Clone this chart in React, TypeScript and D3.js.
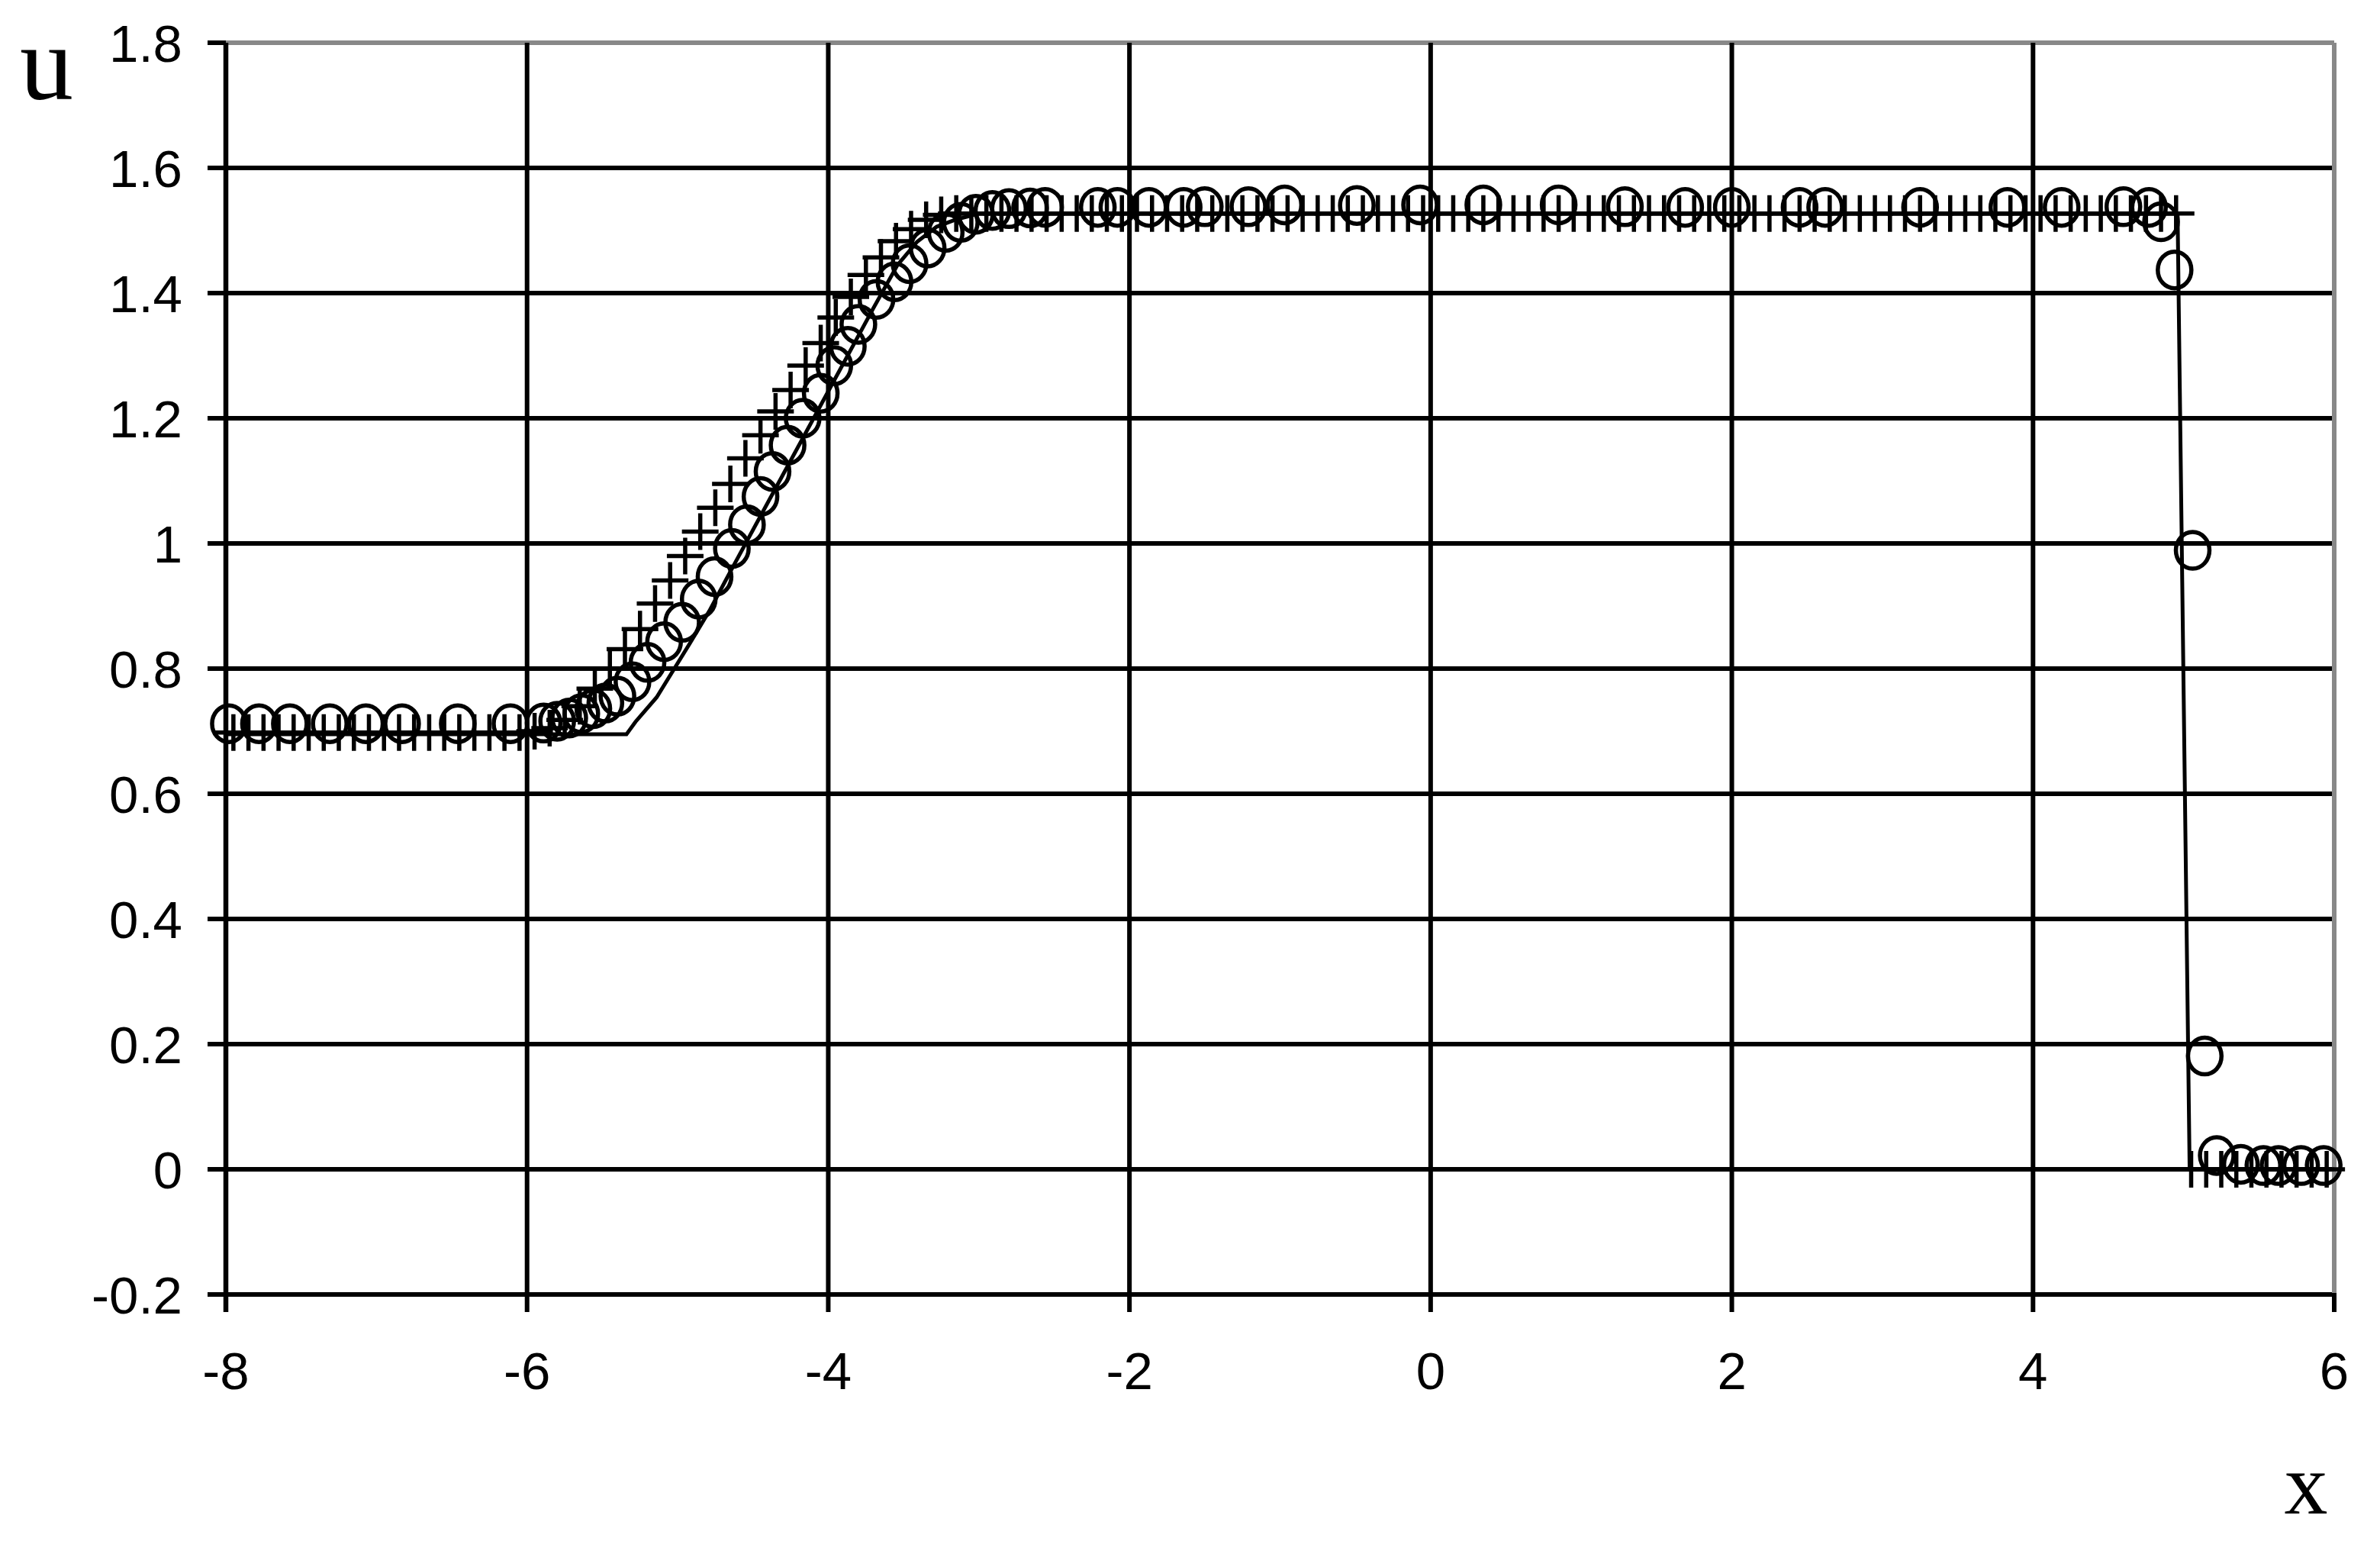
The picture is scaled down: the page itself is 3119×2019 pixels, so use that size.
import { useEffect, useRef } from 'react';
import * as d3 from 'd3';

// axis ticks
const xTicks = [-8, -6, -4, -2, 0, 2, 4, 6];
const yTicks = [-0.2, 0, 0.2, 0.4, 0.6, 0.8, 1, 1.2, 1.4, 1.6, 1.8];

// exact solution (solid line)
const exactX = [-8, -5.34, -5.28, -5.14, -5.04, -4.92, -4.79, -4.65, -3.7, -3.54, -3.41, -3.28, -3.16, -3.0, 4.96, 5.04, 6];
const exactU = [0.695, 0.695, 0.715, 0.754, 0.793, 0.84, 0.892, 0.955, 1.376, 1.445, 1.482, 1.506, 1.517, 1.527, 1.527, 0, 0];

// uniform grid solution (plus markers), cell centres -7.95 ... 5.95
const plusStart = -7.95;
const plusStep = 0.1;
const plusU = [
    0.698, 0.698, 0.698, 0.698, 0.698, 0.698, 0.698, 0.698, 0.698, 0.698,
    0.698, 0.698, 0.698, 0.698, 0.698, 0.698, 0.698, 0.698, 0.698, 0.698,
    0.7, 0.705, 0.718, 0.74, 0.768, 0.8, 0.831, 0.863, 0.904, 0.941,
    0.98, 1.019, 1.057, 1.095, 1.136, 1.173, 1.211, 1.245, 1.284, 1.32,
    1.361, 1.394, 1.429, 1.457, 1.483, 1.502, 1.517, 1.525, 1.527, 1.527,
    1.527, 1.527, 1.527, 1.527, 1.527, 1.527, 1.527, 1.527, 1.527, 1.527,
    1.527, 1.527, 1.527, 1.527, 1.527, 1.527, 1.527, 1.527, 1.527, 1.527,
    1.527, 1.527, 1.527, 1.527, 1.527, 1.527, 1.527, 1.527, 1.527, 1.527,
    1.527, 1.527, 1.527, 1.527, 1.527, 1.527, 1.527, 1.527, 1.527, 1.527,
    1.527, 1.527, 1.527, 1.527, 1.527, 1.527, 1.527, 1.527, 1.527, 1.527,
    1.527, 1.527, 1.527, 1.527, 1.527, 1.527, 1.527, 1.527, 1.527, 1.527,
    1.527, 1.527, 1.527, 1.527, 1.527, 1.527, 1.527, 1.527, 1.527, 1.527,
    1.527, 1.527, 1.527, 1.527, 1.527, 1.527, 1.527, 1.527, 1.527, 1.527,
    0, 0, 0, 0, 0, 0, 0, 0, 0, 0,
];

// moving mesh solution (circle markers)
const circleX = [
    -7.98, -7.78, -7.575, -7.31, -7.07, -6.83, -6.46, -6.11,
    -5.89, -5.8, -5.72, -5.64, -5.56, -5.48, -5.4, -5.3, -5.2, -5.09, -4.97, -4.86, -4.755,
    -4.64, -4.54, -4.45, -4.37, -4.27, -4.17, -4.05, -3.96, -3.87, -3.8, -3.68, -3.56, -3.46,
    -3.34, -3.22, -3.12, -3.02, -2.91, -2.8, -2.66, -2.56, -2.21, -2.08, -1.87, -1.64, -1.5,
    -1.21, -0.97, -0.49, -0.07, 0.35, 0.85, 1.29, 1.69, 2.0, 2.45, 2.62, 3.25, 3.83, 4.19,
    4.6, 4.77, 4.85, 4.94, 5.06, 5.14, 5.22, 5.38, 5.53, 5.63, 5.78, 5.93,
];
const circleU = [
    0.712, 0.712, 0.712, 0.712, 0.712, 0.712, 0.712, 0.712,
    0.713, 0.716, 0.721, 0.728, 0.736, 0.745, 0.756, 0.779, 0.81, 0.843, 0.874, 0.911, 0.947,
    0.992, 1.03, 1.075, 1.115, 1.157, 1.2, 1.24, 1.284, 1.315, 1.35, 1.39, 1.418, 1.447,
    1.472, 1.497, 1.513, 1.526, 1.532, 1.535, 1.536, 1.537, 1.537, 1.537, 1.537, 1.537, 1.538,
    1.538, 1.541, 1.54, 1.541, 1.541, 1.541, 1.538, 1.537, 1.537, 1.537, 1.537, 1.537, 1.537, 1.537,
    1.538, 1.537, 1.514, 1.437, 0.989, 0.181, 0.022, 0.008, 0.006, 0.006, 0.006, 0.006,
];

const W = 3119;
const H = 2019;

export default function App() {
    const svgRef = useRef<SVGSVGElement>(null);

    useEffect(() => {
        if (!svgRef.current) return;
        const svg = d3.select(svgRef.current);
        svg.selectAll('*').remove();

        const x = d3.scaleLinear().domain([-8, 6]).range([296, 3059]);
        const y = d3.scaleLinear().domain([-0.2, 1.8]).range([1696, 56]);
        const [x0, x1] = x.range();
        const [y0, y1] = y.range();
        const gray = '#888888';
        const gridW = 6;

        svg.append('rect').attr('width', W).attr('height', H).attr('fill', '#fff');

        // horizontal grid + left ticks
        svg.append('g')
            .selectAll('line')
            .data(yTicks)
            .enter()
            .append('line')
            .attr('x1', d => (d === 1.8 ? x0 : x0 - 24))
            .attr('x2', x1)
            .attr('y1', d => y(d))
            .attr('y2', d => y(d))
            .attr('stroke', d => (d === 1.8 ? gray : '#000'))
            .attr('stroke-width', gridW);
        // tick at 1.8 stays black
        svg.append('line')
            .attr('x1', x0 - 24).attr('x2', x0)
            .attr('y1', y(1.8)).attr('y2', y(1.8))
            .attr('stroke', '#000').attr('stroke-width', gridW);

        // vertical grid
        svg.append('g')
            .selectAll('line')
            .data(xTicks)
            .enter()
            .append('line')
            .attr('x1', d => x(d))
            .attr('x2', d => x(d))
            .attr('y1', y1)
            .attr('y2', y0)
            .attr('stroke', d => (d === 6 ? gray : '#000'))
            .attr('stroke-width', d => (d === -8 ? 6.5 : gridW));
        // bottom ticks
        svg.append('g')
            .selectAll('line')
            .data(xTicks)
            .enter()
            .append('line')
            .attr('x1', d => x(d))
            .attr('x2', d => x(d))
            .attr('y1', y0 - 2)
            .attr('y2', y0 + 23)
            .attr('stroke', '#000')
            .attr('stroke-width', d => (d === -8 ? 6.5 : gridW));

        // tick labels
        svg.append('g')
            .selectAll('text')
            .data(yTicks)
            .enter()
            .append('text')
            .attr('x', 239)
            .attr('y', d => y(d))
            .attr('dy', '0.36em')
            .attr('text-anchor', 'end')
            .attr('font-family', '"Liberation Sans", Arial, sans-serif')
            .attr('font-size', 69)
            .text(d => d3.format('~g')(d).replace('−', '-'));

        svg.append('g')
            .selectAll('text')
            .data(xTicks)
            .enter()
            .append('text')
            .attr('x', d => x(d))
            .attr('y', 1820)
            .attr('text-anchor', 'middle')
            .attr('font-family', '"Liberation Sans", Arial, sans-serif')
            .attr('font-size', 69)
            .text(d => String(d));

        // axis names
        svg.append('text')
            .attr('x', 26).attr('y', 130)
            .attr('font-family', '"Liberation Serif", "Times New Roman", serif')
            .attr('font-size', 140)
            .text('u');
        svg.append('text')
            .attr('x', 3022).attr('y', 1983)
            .attr('text-anchor', 'middle')
            .attr('font-family', '"Liberation Serif", "Times New Roman", serif')
            .attr('font-size', 114)
            .text('x');

        // exact line
        const line = d3.line<number>()
            .x((_, i) => x(exactX[i]))
            .y(d => y(d));
        svg.append('path')
            .attr('d', line(exactU))
            .attr('fill', 'none')
            .attr('stroke', '#000')
            .attr('stroke-width', 5);

        // plus markers
        const plusSize = 24;
        const plus = svg.append('g').attr('stroke', '#000').attr('stroke-width', 5.5).attr('fill', 'none');
        plus.selectAll('path')
            .data(plusU)
            .enter()
            .append('path')
            .attr('d', (d, i) => {
                const cx = x(plusStart + plusStep * i);
                const cy = y(d);
                return `M${cx - plusSize},${cy}H${cx + plusSize}M${cx},${cy - plusSize}V${cy + plusSize}`;
            });

        // circle markers
        svg.append('g')
            .selectAll('ellipse')
            .data(circleU)
            .enter()
            .append('ellipse')
            .attr('cx', (_, i) => x(circleX[i]))
            .attr('cy', d => y(d))
            .attr('rx', 22)
            .attr('ry', 24)
            .attr('fill', 'none')
            .attr('stroke', '#000')
            .attr('stroke-width', 5.5);
    }, []);

    return (
        <svg
            ref={svgRef}
            width={W}
            height={H}
            style={{ position: 'absolute', left: 0, top: 0, display: 'block' }}
        />
    );
}
